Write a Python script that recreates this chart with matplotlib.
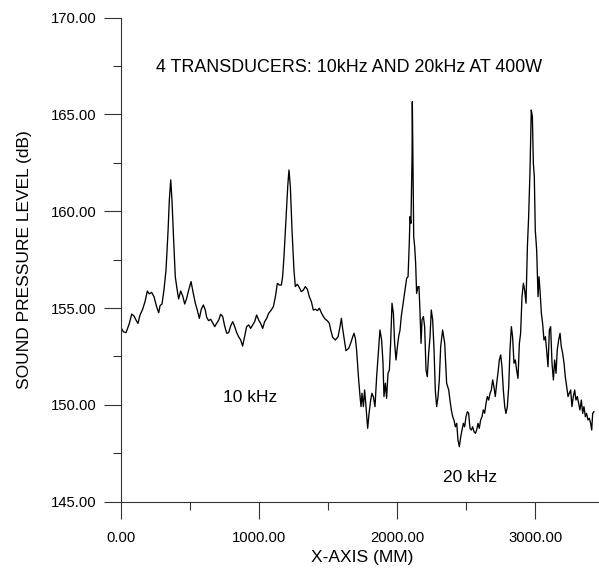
import matplotlib.pyplot as plt
from matplotlib.ticker import MultipleLocator, FormatStrFormatter

plt.rcParams['font.family'] = ['Liberation Sans', 'DejaVu Sans']

# trace: position along the axis (mm) and level (dB)
x_mm = [0, 20, 40, 64, 81, 98, 112, 126, 141, 160, 177, 194, 208, 225, 242,
        261, 276, 286, 300, 314, 329, 344, 353, 363, 372, 382, 396, 406, 420,
        435, 450, 464, 478, 493, 510, 526, 541, 555, 570, 584, 599, 613, 623,
        637, 652, 666, 681, 695, 710, 724, 739, 753, 768, 782, 796, 811, 821,
        830, 840, 854, 869, 883, 898, 912, 927, 941, 956, 970, 984, 999, 1013,
        1028, 1042, 1057, 1071, 1090, 1105, 1120, 1134, 1148, 1163, 1172, 1182,
        1196, 1209, 1218, 1228, 1240, 1254, 1264, 1278, 1293, 1307, 1322, 1336,
        1351, 1365, 1380, 1394, 1409, 1423, 1438, 1452, 1467, 1481, 1495, 1510,
        1520, 1534, 1553, 1573, 1587, 1597, 1606, 1621, 1630, 1650, 1664, 1679,
        1688, 1698, 1707,
        1722, 1732, 1739, 1746, 1756, 1765, 1775, 1787, 1797, 1809, 1818, 1828,
        1840, 1852, 1864, 1876, 1888, 1898, 1905, 1915, 1924, 1934, 1944, 1953,
        1963, 1973, 1982, 1992, 2002, 2011, 2021, 2030, 2040, 2050, 2059, 2069,
        2079, 2088, 2093, 2100, 2108, 2110, 2115, 2120, 2127, 2134, 2141, 2151,
        2158, 2165, 2173, 2180, 2190, 2199, 2209, 2218, 2228, 2238, 2247, 2257,
        2267, 2276, 2286, 2296, 2305, 2315, 2329, 2344, 2358, 2373, 2382, 2392,
        2402, 2411, 2421, 2431, 2440, 2450, 2460, 2469, 2479, 2488, 2498, 2508,
        2517, 2527, 2537, 2546, 2556, 2566, 2575, 2585, 2594, 2604, 2614, 2623,
        2633, 2643, 2652, 2662, 2672, 2681, 2691, 2700, 2710, 2720, 2729, 2739,
        2749, 2758, 2768, 2778, 2787, 2797, 2807, 2816, 2826, 2835, 2845, 2855,
        2864, 2874, 2884, 2893, 2903, 2913, 2922, 2932, 2942, 2951, 2961, 2970,
        2978, 2985, 2992, 2999, 3009, 3019, 3026, 3033, 3043, 3052, 3062, 3072,
        3081, 3091, 3101, 3110, 3120, 3130, 3139, 3149, 3158, 3168, 3178, 3187,
        3197, 3207, 3216, 3226, 3236, 3245, 3255, 3264, 3274, 3284, 3293, 3303,
        3313, 3322, 3332, 3342, 3351, 3361, 3370, 3380, 3390, 3399, 3407, 3414,
        3423]
spl = [154.04, 153.78, 153.73, 154.21, 154.69, 154.59, 154.38, 154.21, 154.64,
       154.94, 155.33, 155.88, 155.73, 155.81, 155.59, 155.07, 154.76, 155.13,
       155.21, 155.93, 156.97, 159.03, 160.58, 161.62, 160.58, 158.86, 156.62,
       156.11, 155.47, 155.88, 155.62, 155.21, 155.50, 155.93, 156.37, 155.76,
       155.25, 154.90, 154.47, 154.94, 155.16, 154.90, 154.52, 154.35, 154.42,
       154.25, 154.04, 154.21, 154.38, 154.68, 154.56, 154.07, 153.70, 153.73,
       154.07, 154.30, 154.13, 153.95, 153.73, 153.52, 153.35, 153.04, 153.56,
       154.04, 154.13, 153.95, 154.13, 154.30, 154.64, 154.38, 154.21, 153.95,
       154.30, 154.47, 154.73, 154.90, 155.07, 155.59, 156.28, 156.19, 156.19,
       156.62, 157.66, 159.55, 161.27, 162.13, 161.27, 159.03, 156.97, 156.11,
       156.23, 156.06, 155.85, 155.93, 156.11, 155.97, 155.59, 155.33, 154.90,
       154.94, 154.87, 154.99, 154.76, 154.56, 154.42, 154.35, 154.21, 153.87,
       153.49, 153.35, 153.52, 154.04, 154.47, 153.95, 153.21, 152.80, 152.92,
       153.18, 153.52, 153.70, 153.44, 152.83,
       151.29, 150.43, 149.91, 150.60, 149.91, 150.77, 149.91, 148.79, 149.56,
       150.25, 150.60, 150.43, 149.91, 151.46, 152.66, 153.87, 153.35, 152.15,
       150.43, 151.12, 150.34, 151.63, 151.80, 153.18, 155.25, 154.73, 153.18,
       152.32, 153.01, 153.52, 153.87, 154.56, 155.07, 155.59, 156.02, 156.54,
       156.62, 158.35, 159.72, 159.38, 162.82, 165.66, 162.13, 158.69, 158.17,
       157.31, 155.76, 156.11, 156.11, 154.90, 153.18, 154.39, 154.56, 154.04,
       151.80, 151.46, 152.66, 153.52, 154.90, 154.39, 152.84, 150.77, 149.91,
       150.43, 151.29, 153.01, 153.87, 153.18, 151.12, 150.77, 150.25, 149.74,
       149.39, 149.22, 148.87, 149.05, 148.19, 147.84, 148.36, 148.70, 149.05,
       148.87, 149.39, 149.65, 149.57, 148.79, 148.70, 148.87, 148.62, 148.53,
       148.70, 149.05, 148.79, 149.22, 149.39, 149.74, 149.57, 150.08, 150.43,
       150.25, 150.60, 150.77, 151.29, 150.94, 150.43, 151.12, 151.63, 152.32,
       152.58, 151.97, 150.77, 149.91, 149.56, 149.91, 150.94, 152.84, 154.04,
       153.52, 152.15, 152.32, 151.80, 151.37, 153.18, 153.70, 155.59, 156.28,
       155.93, 155.25, 158.17, 159.72, 162.13, 165.23, 164.89, 162.48, 161.79,
       159.03, 158.00, 155.59, 156.62, 155.93, 154.73, 154.21, 153.35, 153.52,
       152.84, 151.97, 153.87, 154.04, 152.15, 151.29, 152.32, 151.63, 152.84,
       153.35, 153.70, 153.01, 152.66, 152.15, 151.46, 150.94, 150.43, 150.60,
       150.77, 149.91, 150.43, 150.77, 150.25, 150.43, 150.08, 149.74, 150.25,
       149.56, 149.91, 149.39, 149.56, 149.22, 149.31, 149.05, 148.70, 149.56,
       149.65]

title = '4 TRANSDUCERS: 10kHz AND 20kHz AT 400W'
notes = [('10 kHz', 936, 150.4), ('20 kHz', 2531, 146.24)]

fig = plt.figure(figsize=(5.99, 5.68), dpi=100)
ax = fig.add_axes([0.2012, 0.1167, 0.7977, 0.8523])

ax.plot(x_mm, spl, color='black', lw=0.95)

ax.set_xlim(0, 3455)
ax.set_ylim(145, 170)
ax.xaxis.set_major_locator(MultipleLocator(1000))
ax.xaxis.set_minor_locator(MultipleLocator(500))
ax.yaxis.set_major_locator(MultipleLocator(5))
ax.yaxis.set_minor_locator(MultipleLocator(2.5))
ax.xaxis.set_major_formatter(FormatStrFormatter('%.2f'))
ax.yaxis.set_major_formatter(FormatStrFormatter('%.2f'))

for s in ['top', 'right']:
    ax.spines[s].set_visible(False)
for s in ['left', 'bottom']:
    ax.spines[s].set_color('#333333')
    ax.spines[s].set_linewidth(0.8)

ax.tick_params(which='major', direction='out', length=12, width=0.8,
               color='#333333', labelsize=10.7)
ax.tick_params(which='minor', direction='out', length=6, width=0.8,
               color='#333333')
ax.tick_params(axis='x', which='major', pad=9)
ax.tick_params(axis='y', which='major', pad=5)

ax.set_xlabel('X-AXIS (MM)', fontsize=12.5, va='center')
ax.xaxis.set_label_coords(0.505, -0.115)
ax.set_ylabel('SOUND PRESSURE LEVEL (dB)', fontsize=12.5, va='center')
ax.yaxis.set_label_coords(-0.2, 0.5)

ax.text(1656, 167.4, title, fontsize=12.9, ha='center', va='center')
for txt, xx, yy in notes:
    ax.text(xx, yy, txt, fontsize=12.5, ha='center', va='center')

fig.savefig('out.png', dpi=100)
